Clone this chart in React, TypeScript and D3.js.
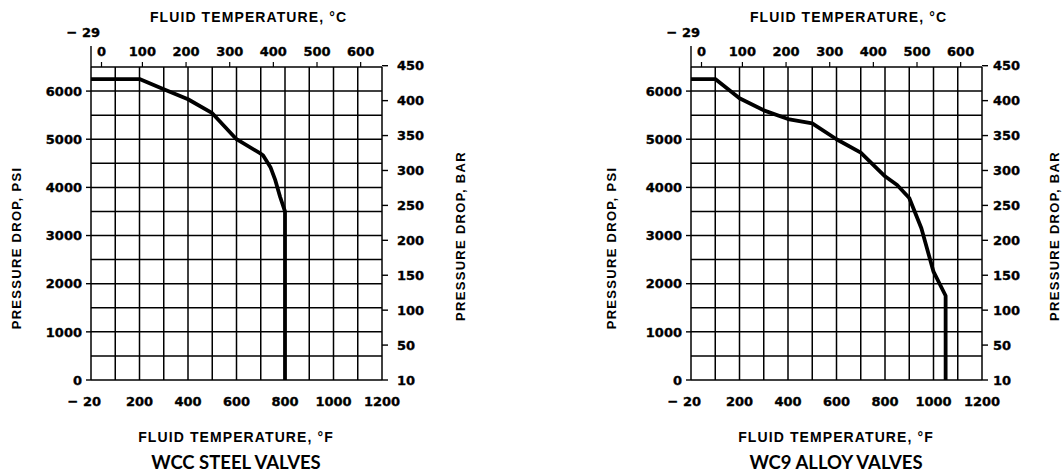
import React from "react";
import * as d3 from "d3";

// tick / grid values
const gridF = [-20, 100, 200, 300, 400, 500, 600, 700, 800, 900, 1000, 1100, 1200];
const labelF = [-20, 200, 400, 600, 800, 1000, 1200];
const labelC = [0, 100, 200, 300, 400, 500, 600];
const gridPsi = [0, 500, 1000, 1500, 2000, 2500, 3000, 3500, 4000, 4500, 5000, 5500, 6000, 6500];
const labelPsi = [0, 1000, 2000, 3000, 4000, 5000, 6000];
const labelBar = [10, 50, 100, 150, 200, 250, 300, 350, 400, 450];

// WCC steel valves (deg F vs psi)
const wccTempF = [-20, 200, 300, 400, 500, 600, 700, 710, 740, 760, 780, 800, 800];
const wccPsi = [6250, 6250, 6040, 5830, 5540, 5000, 4700, 4660, 4420, 4150, 3800, 3500, 0];

// WC9 alloy valves
const wc9TempF = [-20, 100, 200, 300, 400, 500, 600, 700, 800, 850, 900, 950, 1000, 1050, 1050];
const wc9Psi = [6250, 6250, 5850, 5600, 5420, 5330, 5000, 4720, 4230, 4050, 3780, 3150, 2250, 1750, 0];

const PSI_PER_BAR = 14.5038;
const cToF = (c: number) => (c * 9) / 5 + 32;

const titleFont = "'Liberation Sans', Arial, sans-serif";
const numFont = "'DejaVu Sans', sans-serif";

// shared style for the heavy tick numbers
const num = {
  fontFamily: numFont,
  fontWeight: "bold" as const,
  fontSize: 13,
  stroke: "#000",
  strokeWidth: 0.35,
};

type ChartProps = {
  left: number;
  tempF: number[];
  psi: number[];
  name: string;
  barLabelGap: number;
  psiLabelX: number;
  barLabelX: number;
};

const Chart = ({ left, tempF, psi, name, barLabelGap, psiLabelX, barLabelX }: ChartProps) => {
  const w = 291;
  const top = 67;
  const bottom = 380;

  // the chart's temperature grid is not uniform: -20 to 100 takes one cell
  const x = d3.scaleLinear().domain([-20, 100, 1200]).range([0, w / 12, w]);
  const y = d3.scaleLinear().domain([0, 6500]).range([bottom, top]);
  const yBar = d3
    .scaleLinear()
    .domain([10, 50, 450])
    .range([y(0), y(50 * PSI_PER_BAR), y(450 * PSI_PER_BAR)]);

  const line = d3
    .line<number>()
    .x((d, i) => x(tempF[i]))
    .y((d) => y(d));

  const mid = w / 2;

  return (
    <g transform={"translate(" + left + ",0)"}>
      {/* grid */}
      {gridPsi.map((p) => (
        <line key={"h" + p} x1={0} x2={w} y1={y(p)} y2={y(p)} stroke="#000" strokeWidth={1.5} />
      ))}
      {gridF.map((f) => (
        <line key={"v" + f} x1={x(f)} x2={x(f)} y1={top} y2={bottom} stroke="#000" strokeWidth={1.5} />
      ))}

      {/* top celsius axis */}
      <line x1={0} x2={0} y1={46} y2={top} stroke="#000" strokeWidth={1.4} />
      {labelC.map((c) => (
        <g key={"c" + c}>
          <line x1={x(cToF(c))} x2={x(cToF(c))} y1={top - 5} y2={top} stroke="#000" strokeWidth={1.2} />
          <text x={x(cToF(c))} y={55.5} textAnchor="middle" {...num}>
            {c}
          </text>
        </g>
      ))}
      <text x={9} y={37} textAnchor="end" {...num}>
        {"\u2212 29"}
      </text>
      <text
        x={mid + 12}
        y={21.5}
        textAnchor="middle"
        fontFamily={titleFont}
        fontWeight="bold"
        fontSize={14}
        letterSpacing={1.1}
      >
        FLUID TEMPERATURE, °C
      </text>

      {/* left psi axis */}
      {labelPsi.map((p) => (
        <g key={"p" + p}>
          <line x1={-5} x2={0} y1={y(p)} y2={y(p)} stroke="#000" strokeWidth={1.4} />
          <text x={-9} y={y(p)} dy="0.36em" textAnchor="end" {...num}>
            {p}
          </text>
        </g>
      ))}
      <text
        transform={"translate(" + psiLabelX + ",248) rotate(-90)"}
        textAnchor="middle"
        dy="0.36em"
        fontFamily={titleFont}
        fontWeight="bold"
        fontSize={13}
        letterSpacing={1.3}
      >
        PRESSURE DROP, PSI
      </text>

      {/* right bar axis */}
      {labelBar.map((b) => (
        <g key={"b" + b}>
          <line x1={w} x2={w + 6} y1={yBar(b)} y2={yBar(b)} stroke="#000" strokeWidth={1.4} />
          <text x={w + barLabelGap} y={yBar(b)} dy="0.36em" textAnchor="start" {...num}>
            {b}
          </text>
        </g>
      ))}
      <text
        transform={"translate(" + (w + barLabelX) + ",236) rotate(-90)"}
        textAnchor="middle"
        dy="0.36em"
        fontFamily={titleFont}
        fontWeight="bold"
        fontSize={13}
        letterSpacing={1.3}
      >
        PRESSURE DROP, BAR
      </text>

      {/* bottom fahrenheit labels */}
      {labelF.map((f, i) => (
        <text
          key={"f" + f}
          x={i === 0 ? x(f) + 10 : x(f)}
          y={406}
          textAnchor={i === 0 ? "end" : "middle"}
          {...num}
        >
          {i === 0 ? "\u2212 20" : f}
        </text>
      ))}
      <text
        x={145}
        y={441.5}
        textAnchor="middle"
        fontFamily={titleFont}
        fontWeight="bold"
        fontSize={14}
        letterSpacing={1.1}
      >
        FLUID TEMPERATURE, °F
      </text>
      <text x={145} y={469} textAnchor="middle" fontFamily="Lato, sans-serif" fontWeight="bold" fontSize={18.5}>
        {name}
      </text>

      {/* curve */}
      <path d={line(psi) || ""} fill="none" stroke="#000" strokeWidth={3.8} strokeLinejoin="round" />
    </g>
  );
};

const App = () => {
  return (
    <svg
      width={1063}
      height={474}
      style={{ position: "absolute", left: 0, top: 0, background: "#fff" }}
    >
      <rect width={1063} height={474} fill="#fff" />
      <Chart
        left={91}
        tempF={wccTempF}
        psi={wccPsi}
        name="WCC STEEL VALVES"
        barLabelGap={15}
        psiLabelX={-75}
        barLabelX={78}
      />
      <Chart
        left={691}
        tempF={wc9TempF}
        psi={wc9Psi}
        name="WC9 ALLOY VALVES"
        barLabelGap={11}
        psiLabelX={-80}
        barLabelX={72}
      />
    </svg>
  );
};

export default App;
